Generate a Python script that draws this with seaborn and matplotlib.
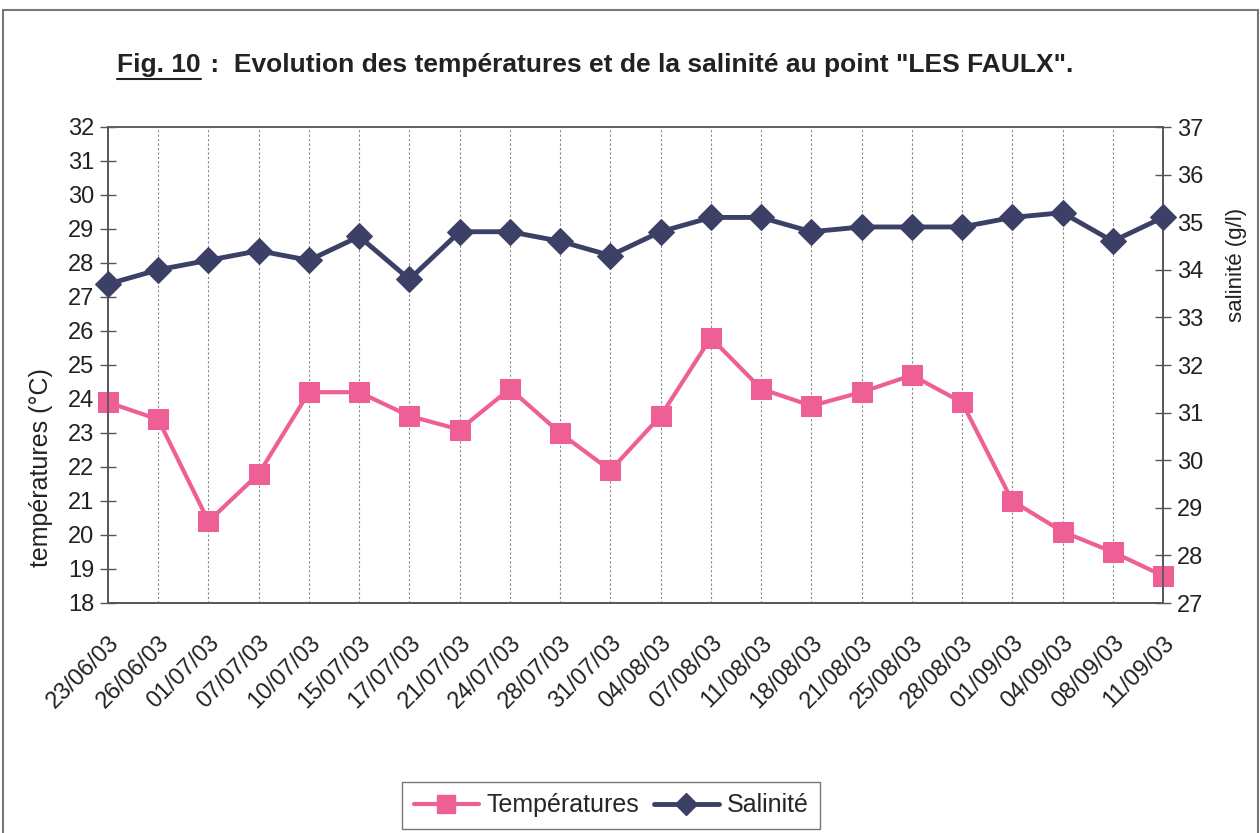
import matplotlib
matplotlib.use("Agg")
import matplotlib.pyplot as plt
from matplotlib.lines import Line2D
from matplotlib.patches import Rectangle
import pandas as pd
import seaborn as sns

# données
dates = ["23/06/03", "26/06/03", "01/07/03", "07/07/03", "10/07/03", "15/07/03",
         "17/07/03", "21/07/03", "24/07/03", "28/07/03", "31/07/03", "04/08/03",
         "07/08/03", "11/08/03", "18/08/03", "21/08/03", "25/08/03", "28/08/03",
         "01/09/03", "04/09/03", "08/09/03", "11/09/03"]
temperatures = [23.9, 23.4, 20.4, 21.8, 24.2, 24.2, 23.5, 23.1, 24.3, 23.0, 21.9,
                23.5, 25.8, 24.3, 23.8, 24.2, 24.7, 23.9, 21.0, 20.1, 19.5, 18.8]
salinite = [33.7, 34.0, 34.2, 34.4, 34.2, 34.7, 33.8, 34.8, 34.8, 34.6, 34.3,
            34.8, 35.1, 35.1, 34.8, 34.9, 34.9, 34.9, 35.1, 35.2, 34.6, 35.1]
temp_ticks = list(range(18, 33))
sal_ticks = list(range(27, 38))

PINK = "#EE5F96"
NAVY = "#3D4066"
AXC = "#555555"

df = pd.DataFrame({"date": dates, "temp": temperatures, "sal": salinite})

sns.set_style("white")
plt.rcParams["font.family"] = ["Liberation Sans", "DejaVu Sans"]

fig = plt.figure(figsize=(12.6, 8.33), dpi=100)
ax = fig.add_axes([108 / 1260, 1 - 603 / 833, (1163 - 108) / 1260, (603 - 127) / 833])
ax2 = ax.twinx()

sns.lineplot(data=df, x="date", y="temp", ax=ax, color=PINK, lw=3, marker="s",
             markersize=15, markeredgecolor=PINK, sort=False, legend=False,
             zorder=3, clip_on=False)
sns.lineplot(data=df, x="date", y="sal", ax=ax2, color=NAVY, lw=3.5, marker="D",
             markersize=13, markeredgecolor=NAVY, sort=False, legend=False,
             zorder=3, clip_on=False)

ax.set_xlim(0, len(dates) - 1)
ax.set_ylim(18, 32)
ax2.set_ylim(27, 37)
ax.set_yticks(temp_ticks)
ax2.set_yticks(sal_ticks)
ax.set_xticks(range(len(dates)))
ax.set_xticklabels(dates, rotation=45, ha="right", rotation_mode="anchor", fontsize=17)
for x in range(1, len(dates) - 1):
    ax.axvline(x, color="#888888", ls=(0, (2, 2)), lw=0.8, zorder=1)

ax.tick_params(axis="y", direction="inout", length=12, width=1, colors=AXC,
               labelcolor="#222222", labelsize=17, pad=4)
ax2.tick_params(axis="y", direction="inout", length=12, width=1, colors=AXC,
                labelcolor="#222222", labelsize=17, pad=4)
ax.tick_params(axis="x", direction="out", length=7, width=1, colors=AXC,
               labelcolor="#222222", pad=14)
for a in (ax, ax2):
    for s in a.spines.values():
        s.set_color(AXC)
        s.set_linewidth(1.2)
ax.spines["top"].set_color("#999999")

ax.set_xlabel("")
ax.set_ylabel("températures (°C)", fontsize=18, color="#222222")
ax.yaxis.set_label_coords(-0.052, 0.284)
ax2.set_ylabel("salinité (g/l)", fontsize=16, color="#222222")
ax2.yaxis.set_label_coords(1.06, 0.71)

# cadre du graphique
fig.patches.append(Rectangle((3 / 1260, -0.01), 1255 / 1260, 1 - 10 / 833 + 0.01,
                             transform=fig.transFigure, fill=False,
                             edgecolor="#777777", lw=1.5))

# titre avec "Fig. 10" souligné
ty = 1 - 65 / 833
t1 = fig.text(117 / 1260, ty, "Fig. 10", fontsize=19, fontweight="bold",
              va="center", color="#222222")
fig.canvas.draw()
r = fig.canvas.get_renderer()
bb = t1.get_window_extent(r).transformed(fig.transFigure.inverted())
fig.add_artist(Line2D([bb.x0, bb.x1], [bb.y0 - 0.002, bb.y0 - 0.002],
                      transform=fig.transFigure, color="#222222", lw=1.5))
fig.text(bb.x1 + 0.002, ty,
         ' :  Evolution des températures et de la salinité au point "LES FAULX".',
         fontsize=19, fontweight="bold", va="center", color="#222222")

handles = [
    Line2D([], [], color=PINK, lw=3, marker="s", markersize=13),
    Line2D([], [], color=NAVY, lw=3.5, marker="D", markersize=11),
]
leg = fig.legend(handles, ["Températures", "Salinité"], loc="upper center",
                 bbox_to_anchor=(611 / 1260, 1 - 782 / 833), ncol=2, fontsize=18,
                 frameon=True, fancybox=False, edgecolor="#555555",
                 handlelength=2.6, handletextpad=0.3, columnspacing=0.6,
                 borderpad=0.45, borderaxespad=0)
leg.get_frame().set_linewidth(1)

fig.savefig("out.png", dpi=100)
